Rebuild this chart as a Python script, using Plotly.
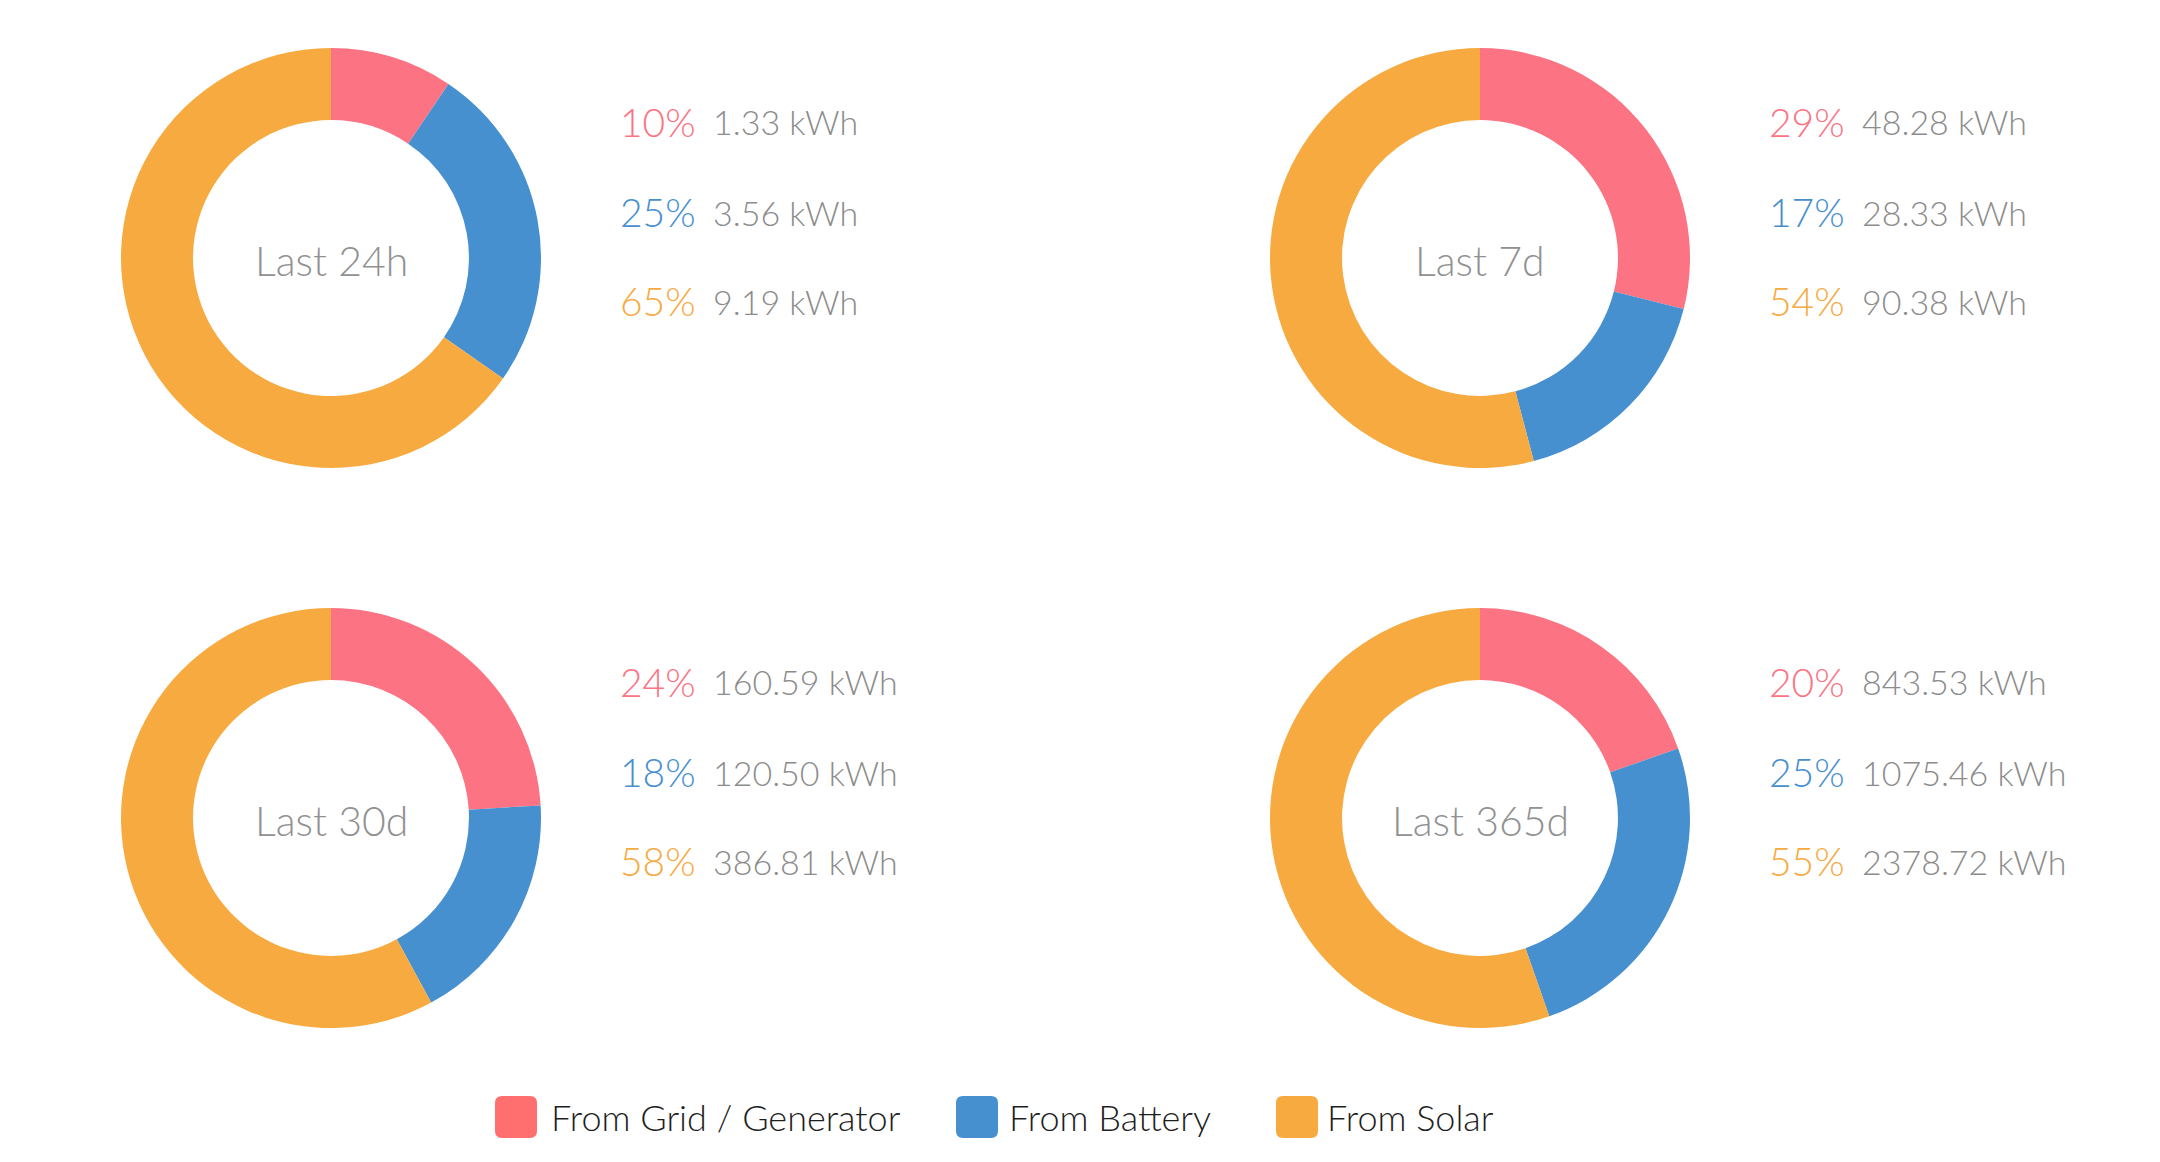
import plotly.graph_objects as go

W, H = 2160, 1162
OFF = 8  # page body margin compensation

periods = ["Last 24h", "Last 7d", "Last 30d", "Last 365d"]
sources = ["From Grid / Generator", "From Battery", "From Solar"]
grid_kwh = [1.33, 48.28, 160.59, 843.53]
battery_kwh = [3.56, 28.33, 120.50, 1075.46]
solar_kwh = [9.19, 90.38, 386.81, 2378.72]
grid_pct = [10, 29, 24, 20]
battery_pct = [25, 17, 18, 25]
solar_pct = [65, 54, 58, 55]

slice_colors = ["#FC7383", "#4790CF", "#F7AA3F"]
legend_colors = ["#FF6F6F", "#4790CF", "#F7AA3F"]
value_color = "#8C8C8C"
label_color = "#919191"
FONT = "Lato"

# layout (pixels)
centers = [(331, 258), (1480, 258), (331, 818), (1480, 818)]
R = 210
HOLE = 0.657
pct_dx = 287     # percent text left edge offset from donut centre
val_dx = 380     # value text left edge offset from donut centre
row_dy = [-136, -46, 43]


def px(x):
    return (x - OFF) / W


def py(y):
    return 1 - (y - OFF) / H


fig = go.Figure()
annotations = []
for i, period in enumerate(periods):
    cx, cy = centers[i]
    vals = [grid_kwh[i], battery_kwh[i], solar_kwh[i]]
    pcts = [grid_pct[i], battery_pct[i], solar_pct[i]]
    fig.add_trace(go.Pie(
        labels=sources,
        values=vals,
        hole=HOLE,
        sort=False,
        direction="clockwise",
        rotation=0,
        textinfo="none",
        marker=dict(colors=slice_colors, line=dict(width=0)),
        domain=dict(x=[px(cx - R), px(cx + R)], y=[py(cy + R), py(cy - R)]),
        showlegend=False,
        hoverinfo="label+value+percent",
    ))
    annotations.append(dict(
        x=px(cx), y=py(cy + 2), xref="paper", yref="paper",
        text=period, showarrow=False, xanchor="center", yanchor="middle",
        font=dict(family=FONT, size=41, color=label_color, weight=300),
    ))
    for j in range(3):
        annotations.append(dict(
            x=px(cx + pct_dx), y=py(cy + row_dy[j]), xref="paper", yref="paper",
            text=f"{pcts[j]}%", showarrow=False, xanchor="left", yanchor="middle",
            font=dict(family=FONT, size=39, color=slice_colors[j], weight=300),
        ))
        annotations.append(dict(
            x=px(cx + val_dx), y=py(cy + row_dy[j]), xref="paper", yref="paper",
            text=f"{vals[j]:.2f} kWh", showarrow=False, xanchor="left", yanchor="middle",
            font=dict(family=FONT, size=34, color=value_color, weight=300),
        ))

# legend (custom, large rounded swatches)
legend_swatch_x = [495, 956, 1276]
legend_text_x = [549, 1007, 1325]
legend_y = 1117
sw = 42
rr = 7
shapes = []
for k, name in enumerate(sources):
    x0, x1 = legend_swatch_x[k], legend_swatch_x[k] + sw
    y0, y1 = legend_y - sw / 2, legend_y + sw / 2
    path = (
        f"M {px(x0 + rr)} {py(y0)} L {px(x1 - rr)} {py(y0)} "
        f"Q {px(x1)} {py(y0)} {px(x1)} {py(y0 + rr)} "
        f"L {px(x1)} {py(y1 - rr)} Q {px(x1)} {py(y1)} {px(x1 - rr)} {py(y1)} "
        f"L {px(x0 + rr)} {py(y1)} Q {px(x0)} {py(y1)} {px(x0)} {py(y1 - rr)} "
        f"L {px(x0)} {py(y0 + rr)} Q {px(x0)} {py(y0)} {px(x0 + rr)} {py(y0)} Z"
    )
    shapes.append(dict(type="path", path=path, xref="paper", yref="paper",
                       fillcolor=legend_colors[k], line=dict(width=0)))
    annotations.append(dict(
        x=px(legend_text_x[k]), y=py(legend_y), xref="paper", yref="paper",
        text=name, showarrow=False, xanchor="left", yanchor="middle",
        font=dict(family=FONT, size=36, color="#1E1E1E", weight=300),
    ))

fig.update_layout(
    width=W, height=H,
    margin=dict(l=0, r=0, t=0, b=0),
    paper_bgcolor="white", plot_bgcolor="white",
    annotations=annotations, shapes=shapes,
    font=dict(family=FONT),
)

fig.write_html("out.html")
